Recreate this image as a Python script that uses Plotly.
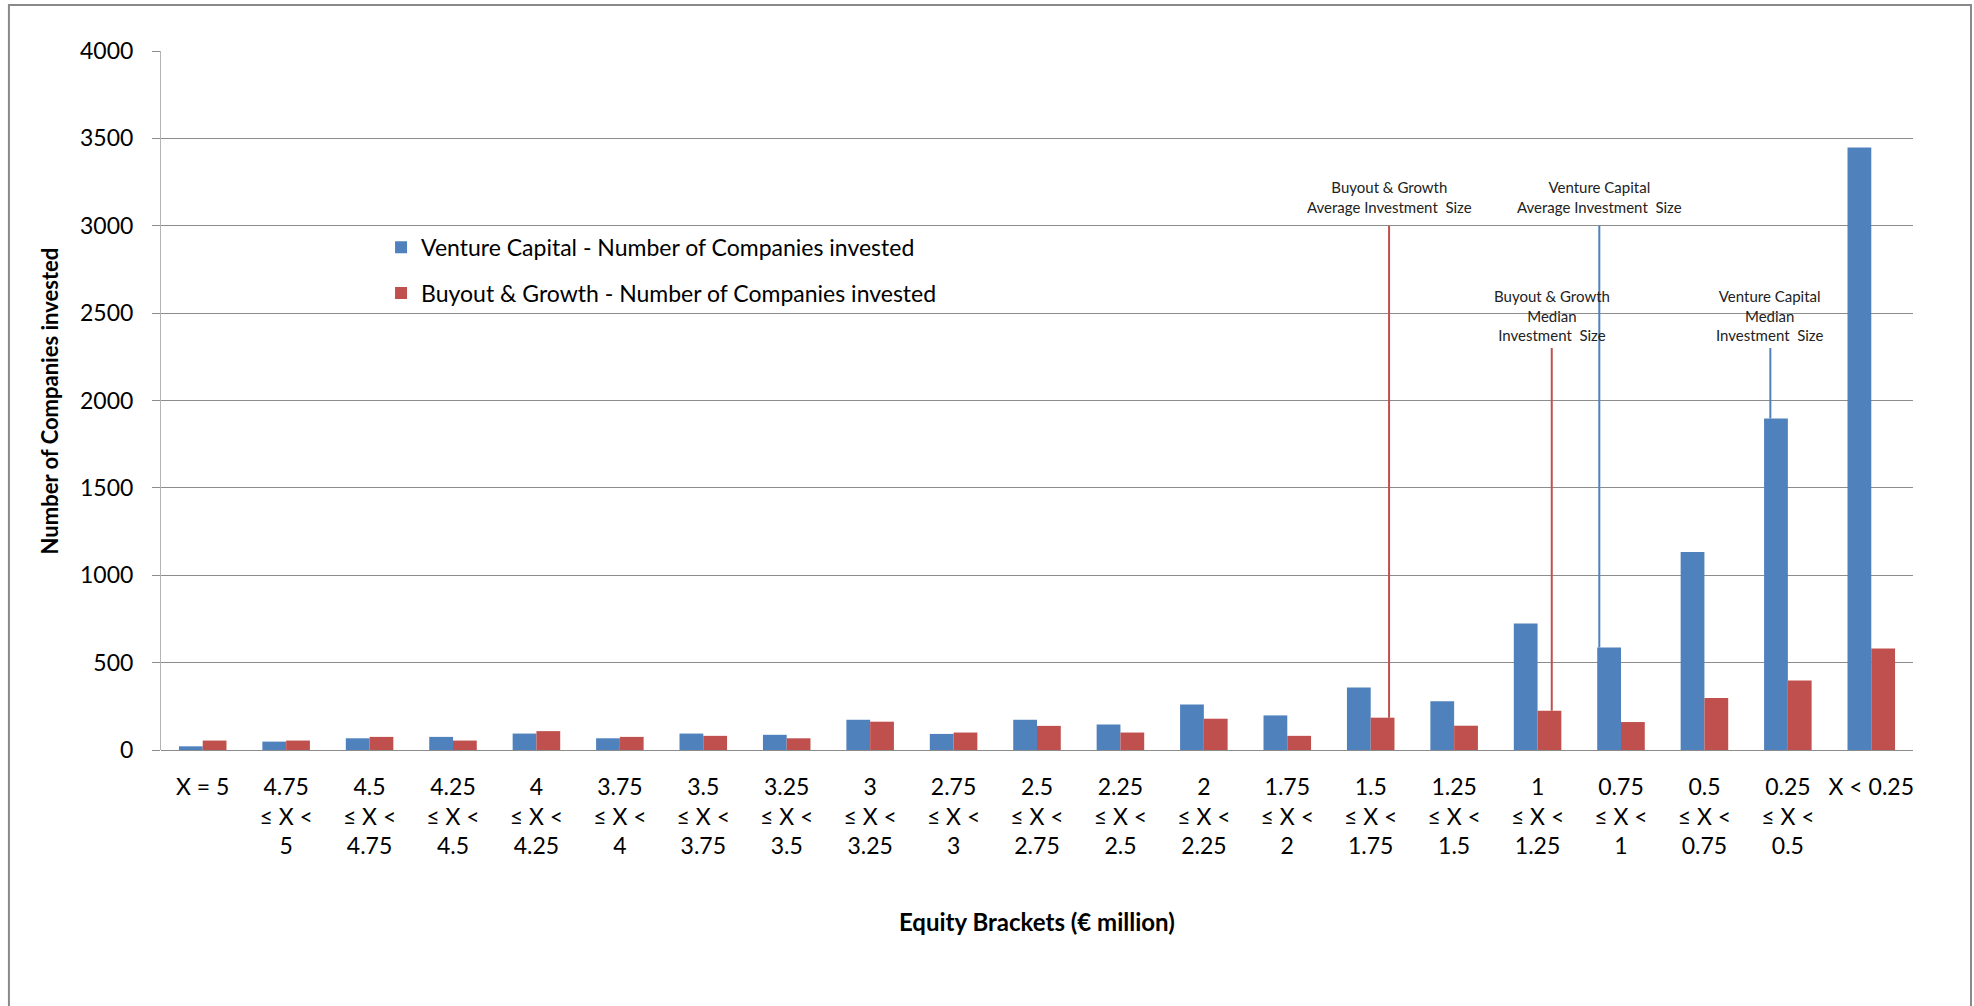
import plotly.graph_objects as go

# ---------------- data ----------------
brackets = [
    "X = 5",
    "4.75<br>≤ X &lt;<br>5",
    "4.5<br>≤ X &lt;<br>4.75",
    "4.25<br>≤ X &lt;<br>4.5",
    "4<br>≤ X &lt;<br>4.25",
    "3.75<br>≤ X &lt;<br>4",
    "3.5<br>≤ X &lt;<br>3.75",
    "3.25<br>≤ X &lt;<br>3.5",
    "3<br>≤ X &lt;<br>3.25",
    "2.75<br>≤ X &lt;<br>3",
    "2.5<br>≤ X &lt;<br>2.75",
    "2.25<br>≤ X &lt;<br>2.5",
    "2<br>≤ X &lt;<br>2.25",
    "1.75<br>≤ X &lt;<br>2",
    "1.5<br>≤ X &lt;<br>1.75",
    "1.25<br>≤ X &lt;<br>1.5",
    "1<br>≤ X &lt;<br>1.25",
    "0.75<br>≤ X &lt;<br>1",
    "0.5<br>≤ X &lt;<br>0.75",
    "0.25<br>≤ X &lt;<br>0.5",
    "X &lt; 0.25",
]
vc_companies = [21, 48, 67, 75, 94, 67, 94, 87, 173, 92, 173, 146, 260, 198, 358, 279, 724, 587, 1133, 1897, 3448]
bg_companies = [54, 54, 75, 54, 108, 75, 81, 67, 162, 100, 138, 100, 179, 81, 185, 139, 225, 160, 298, 397, 581]

# marker lines for average / median investment size (position on bracket axis, index units)
marker_labels = [
    "Buyout & Growth<br>Average Investment  Size",
    "Buyout & Growth<br>Median<br>Investment  Size",
    "Venture Capital<br>Average Investment  Size",
    "Venture Capital<br>Median<br>Investment  Size",
]
marker_pos = [14.22, 16.17, 16.74, 18.79]
marker_base = [185, 225, 587, 1897]
marker_top = [3000, 2300, 3000, 2300]
marker_series = ["bg", "bg", "vc", "vc"]

BLUE = "#4F81BD"
RED = "#C0504D"
FONT = "Lato, 'Open Sans', sans-serif"

fig = go.Figure()
fig.add_trace(go.Bar(x=brackets, y=vc_companies, name="Venture Capital - Number of Companies invested",
                     marker=dict(color=BLUE, line=dict(width=0)), legendgroup="vc"))
fig.add_trace(go.Bar(x=brackets, y=bg_companies, name="Buyout & Growth - Number of Companies invested",
                     marker=dict(color=RED, line=dict(width=0)), legendgroup="bg"))

yshifts = [8, 2, 8, 2]
for lab, pos, base, top, ser, ys in zip(marker_labels, marker_pos, marker_base, marker_top, marker_series, yshifts):
    col = RED if ser == "bg" else BLUE
    fig.add_trace(go.Scatter(x=[pos, pos], y=[base, top], mode="lines", line=dict(color=col, width=2),
                             xaxis="x2", yaxis="y", showlegend=False, hoverinfo="skip"))
    fig.add_annotation(x=pos, y=top, xref="x2", yref="y", text=lab, showarrow=False,
                       yanchor="bottom", yshift=ys, font=dict(family=FONT, size=15, color="#222"),
                       align="center")

fig.update_layout(
    width=1974, height=1006,
    margin=dict(l=161, r=61, t=51, b=256),
    paper_bgcolor="white", plot_bgcolor="white",
    barmode="group", bargap=0.43, bargroupgap=0,
    font=dict(family=FONT, color="black"),
    showlegend=True,
    legend=dict(x=0.1256, y=0.750, xanchor="left", yanchor="top", bgcolor="rgba(0,0,0,0)",
                font=dict(family=FONT, size=23, color="black"), tracegroupgap=13,
                itemsizing="constant"),
    xaxis=dict(type="category", showgrid=False, showline=False, zeroline=False,
               ticks="outside", ticklen=16, tickcolor="rgba(0,0,0,0)",
               tickfont=dict(family=FONT, size=23, color="black"), tickangle=0),
    xaxis2=dict(overlaying="x", range=[-0.5, 20.5], visible=False, showgrid=False, zeroline=False),
    yaxis=dict(range=[0, 4000], dtick=500, showgrid=True, gridcolor="#8c8c8c", gridwidth=1,
               zeroline=True, zerolinecolor="#8c8c8c", zerolinewidth=1,
               showline=True, linecolor="#b3b3b3", linewidth=1,
               ticks="outside", ticklen=8, tickcolor="#8c8c8c",
               ticklabelstandoff=14,
               tickfont=dict(family=FONT, size=23, color="black")),
    annotations=list(fig.layout.annotations) + [
        dict(text="<b>Equity Brackets (€ million)</b>", xref="paper", yref="paper", x=0.5, y=-0.2454,
             showarrow=False, font=dict(family=FONT, size=24, color="black"), yanchor="middle"),
        dict(text="<b>Number of Companies invested</b>", xref="paper", yref="paper", x=-0.0634, y=0.5,
             showarrow=False, textangle=-90, font=dict(family=FONT, size=22, color="black"), xanchor="center"),
    ],
    shapes=[dict(type="rect", xref="paper", yref="paper", x0=-0.0868, x1=1.0331, y0=-0.5, y1=1.0658,
                 line=dict(color="#898989", width=2), fillcolor="rgba(0,0,0,0)", layer="below")],
)

fig.write_html("out.html")
